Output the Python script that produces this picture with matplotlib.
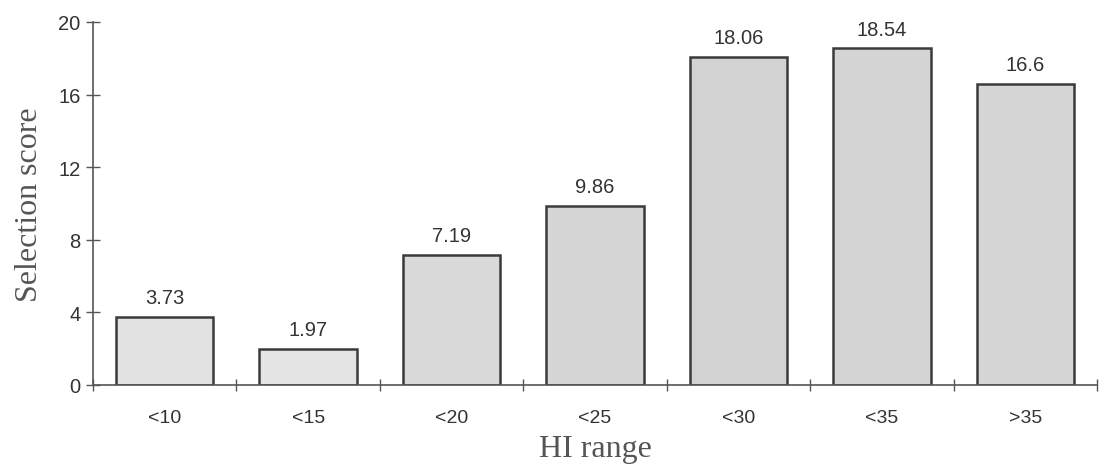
import matplotlib.pyplot as plt
import numpy as np

# Selection score for each HI range
hi_ranges = ['<10', '<15', '<20', '<25', '<30', '<35', '>35']
scores = [3.73, 1.97, 7.19, 9.86, 18.06, 18.54, 16.6]
value_labels = ['3.73', '1.97', '7.19', '9.86', '18.06', '18.54', '16.6']
bar_colors = ['#e2e2e2', '#e4e4e4', '#d9d9d9', '#d6d6d6', '#d2d2d2', '#d4d4d4', '#d6d6d6']

sans = ['Liberation Sans', 'DejaVu Sans']
serif = ['Liberation Serif', 'DejaVu Serif']

fig = plt.figure(figsize=(10.99, 4.77), dpi=100)
ax = fig.add_axes([93 / 1099, (477 - 386) / 477, 1004 / 1099, 363 / 477])

x = np.arange(len(hi_ranges))
ax.bar(x, scores, width=0.68, color=bar_colors, edgecolor='#3a3a3a', linewidth=1.8, zorder=2)

for xi, v, lab in zip(x, scores, value_labels):
    ax.text(xi, v + 0.55, lab, ha='center', va='bottom', fontsize=14.5,
            family=sans, color='#333333')

ax.set_xlim(-0.5, len(hi_ranges) - 0.5)
ax.set_ylim(0, 20)
ax.set_yticks([0, 4, 8, 12, 16, 20])

# boundary ticks between categories, labels centred under bars
ax.set_xticks(np.arange(len(hi_ranges) + 1) - 0.5)
ax.set_xticklabels([])
ax.set_xticks(x, minor=True)
ax.set_xticklabels(hi_ranges, minor=True)
ax.tick_params(axis='x', which='minor', length=0, pad=17, labelsize=14, labelcolor='#333333')
ax.tick_params(axis='x', which='major', direction='inout', length=9, width=1, color='#555555')
ax.tick_params(axis='y', direction='inout', length=10, width=1, color='#555555',
               pad=4, labelsize=14.5, labelcolor='#333333')
for lab in ax.get_xticklabels(minor=True) + ax.get_yticklabels():
    lab.set_family(sans)

for side in ['top', 'right']:
    ax.spines[side].set_visible(False)
for side in ['left', 'bottom']:
    ax.spines[side].set_color('#555555')
    ax.spines[side].set_linewidth(1.2)

ax.set_ylabel('Selection score', family=serif, fontsize=23, color='#555555', labelpad=10)
ax.set_xlabel('HI range', family=serif, fontsize=23, color='#555555', labelpad=6)

fig.savefig('out.png', dpi=100)
